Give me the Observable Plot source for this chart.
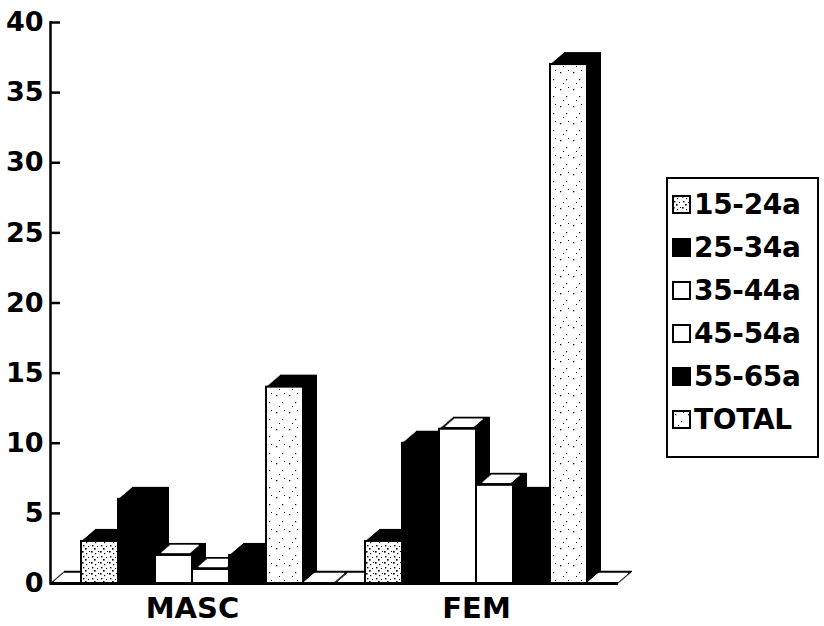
<!DOCTYPE html>
<html>
<head>
<meta charset="utf-8">
<script src="https://cdn.jsdelivr.net/npm/d3@7"></script>
<script src="https://cdn.jsdelivr.net/npm/@observablehq/plot@0.6"></script>
<style>
  body { margin: 0; background: #fff; }
  #wrap { position: relative; width: 824px; height: 626px; font-family: "DejaVu Sans", sans-serif; }
  #wrap > svg { position: absolute; left: 0; top: 0; }
  #legend {
    position: absolute; left: 666px; top: 177px; width: 153px; height: 281px;
    box-sizing: border-box; border: 2px solid #000; background: #fff;
    padding: 4px 0 0 4px;
  }
  #legend .item { display: flex; align-items: center; height: 43px; }
  #legend .item svg { flex: none; margin-right: 3px; }
  #legend .item span { font-size: 28px; font-weight: bold; color: #000; line-height: 1; letter-spacing: -0.3px; }
</style>
</head>
<body>
<div id="wrap"></div>
<script>
// Age groups per sex (values in %)
const groups = ["MASC", "FEM"];
const series = ["15-24a", "25-34a", "35-44a", "45-54a", "55-65a", "TOTAL"];
const mascValues = [3, 6, 2, 1, 2, 14];
const femValues = [3, 10, 11, 7, 6, 37];
const yTicks = [0, 5, 10, 15, 20, 25, 30, 35, 40];

// Fill for each series: stippled, black or white faces
const seriesFill = ["url(#stipple-dense)", "#000", "#fff", "#fff", "#000", "url(#stipple-light)"];

const rows = groups.flatMap((group, gi) =>
  series.map((s, si) => ({group, series: s, value: [mascValues, femValues][gi][si]}))
);
const whiteRows = rows.filter((d) => seriesFill[series.indexOf(d.series)] === "#fff");

// Frame geometry
const width = 640, marginLeft = 50, marginRight = 22;
const facetWidth = (width - marginLeft - marginRight) / groups.length;
const tickLength = 10;

// Pseudo-3D extrusion: `depth` one-pixel steps up, slightly more across
const depth = 12;
const skew = 14 / 12;
const steps = d3.range(1, depth + 1);
const bar = {fx: "group", x: "series", y: "value"};

const chart = Plot.plot({
  width,
  height: 626,
  marginLeft,
  marginRight,
  marginTop: 22,
  marginBottom: 43,
  style: {fontFamily: "DejaVu Sans, sans-serif", fontWeight: "bold", color: "#000", background: "transparent", overflow: "visible"},
  fx: {domain: groups, paddingInner: 0, paddingOuter: 0, label: null},
  x: {domain: series, paddingInner: 0, paddingOuter: 0.737, axis: null},
  y: {domain: [0, 40], axis: null},
  color: {domain: series, range: seriesFill},
  marks: [
    // floor: black slab, then white interior
    ...d3.range(0, depth + 1).map((k) => Plot.ruleY([0], {dx: k * skew, dy: -k, stroke: "#000", strokeWidth: 1.5})),
    ...d3.range(2, depth - 1).map((k) => Plot.ruleY([0], {dx: k * skew, dy: -k, stroke: "#fff", strokeWidth: 1.5, insetLeft: 1.5, insetRight: 1.5})),
    // side and top faces of each bar
    ...steps.map((k) => Plot.rectY(rows, {...bar, dx: k * skew, dy: -k, fill: "#000"})),
    // open top faces of the white bars
    ...d3.range(3, depth - 1).map((k) => Plot.tickY(whiteRows, {...bar, dx: k * skew, dy: -k, stroke: "#fff", strokeWidth: 1.5, insetLeft: 3, insetRight: 5})),
    // front faces
    Plot.rectY(rows, {...bar, fill: "series", stroke: "#000", strokeWidth: 2}),
    Plot.ruleY([0], {stroke: "#000", strokeWidth: 3}),
    // value axis: line, inward ticks, labels
    Plot.frame({anchor: "left", facetAnchor: "left", stroke: "#000", strokeWidth: 2.5}),
    Plot.ruleY(yTicks, {facetAnchor: "left", insetRight: facetWidth - tickLength, stroke: "#000", strokeWidth: 2.5}),
    Plot.axisY({ticks: yTicks, tickSize: 0, tickPadding: 7, fontSize: 27, label: null, tickFormat: (d) => d}),
    Plot.axisFx({anchor: "bottom", tickSize: 0, tickPadding: 14, fontSize: 29, label: null})
  ]
});

const svg = d3.select(chart.tagName.toLowerCase() === "svg" ? chart : chart.querySelector("svg"));
const defs = svg.insert("defs", ":first-child");

function stipple(id, w, h, dots) {
  const p = defs.append("pattern").attr("id", id).attr("patternUnits", "userSpaceOnUse").attr("width", w).attr("height", h);
  p.append("rect").attr("width", w).attr("height", h).attr("fill", "#fff");
  for (const [x, y, s] of dots) p.append("rect").attr("x", x).attr("y", y).attr("width", s).attr("height", s).attr("fill", "#000");
}
stipple("stipple-dense", 9, 11, [[1, 1, 1.6], [5, 3, 1.2], [2, 6, 1.4], [7, 7, 1], [4, 9, 1.6], [8, 1, 1]]);
stipple("stipple-light", 13, 17, [[3, 4, 1.3], [9, 11, 1.2], [6, 15, 1], [11, 2, 1]]);

const wrap = d3.select("#wrap");
wrap.node().appendChild(chart);

// legend
const legend = wrap.append("div").attr("id", "legend");
series.forEach((s, i) => {
  const item = legend.append("div").attr("class", "item");
  item.append("svg").attr("width", 19).attr("height", 19)
    .append("rect").attr("x", 1).attr("y", 1).attr("width", 17).attr("height", 17)
    .attr("fill", seriesFill[i]).attr("stroke", "#000").attr("stroke-width", 2);
  item.append("span").text(s);
});
</script>
</body>
</html>
